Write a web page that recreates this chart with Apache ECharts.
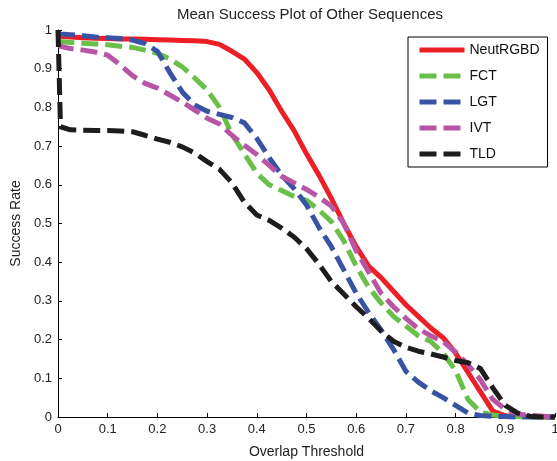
<!DOCTYPE html>
<html>
<head>
<meta charset="utf-8">
<script src="https://cdn.jsdelivr.net/npm/echarts@6/dist/echarts.min.js"></script>
<style>
  html, body { margin: 0; padding: 0; background: #fff; }
  #success-chart { width: 557px; height: 461px; }
</style>
</head>
<body>
<div id="success-chart"></div>
<script>
// overlap thresholds (x)
let thresholds = [0, 0.005, 0.025, 0.05, 0.075, 0.1, 0.125, 0.15, 0.175, 0.2, 0.225, 0.25, 0.275, 0.3,
  0.325, 0.35, 0.375, 0.4, 0.425, 0.45, 0.475, 0.5, 0.525, 0.55, 0.575, 0.6, 0.625, 0.65, 0.675, 0.7,
  0.725, 0.75, 0.775, 0.8, 0.825, 0.85, 0.875, 0.9, 0.925, 0.95, 0.975, 1];

let neutRGBD = [0.985, 0.984, 0.982, 0.98, 0.979, 0.978, 0.977, 0.977, 0.976, 0.975, 0.974, 0.973, 0.972, 0.97,
  0.963, 0.945, 0.925, 0.89, 0.845, 0.79, 0.74, 0.68, 0.625, 0.565, 0.5, 0.44, 0.39, 0.36, 0.325, 0.29,
  0.26, 0.23, 0.205, 0.165, 0.115, 0.065, 0.015, 0.003, 0.002, 0.001, 0, 0];

let fct = [0.975, 0.97, 0.968, 0.966, 0.964, 0.962, 0.958, 0.955, 0.948, 0.94, 0.925, 0.905, 0.876, 0.845,
  0.8, 0.73, 0.68, 0.63, 0.6, 0.585, 0.57, 0.56, 0.535, 0.505, 0.455, 0.39, 0.335, 0.295, 0.26, 0.235,
  0.21, 0.195, 0.165, 0.12, 0.045, 0.013, 0.005, 0.002, 0.001, 0, 0, 0];

let lgt = [0.992, 0.99, 0.988, 0.985, 0.982, 0.98, 0.978, 0.974, 0.965, 0.945, 0.89, 0.84, 0.806, 0.79,
  0.782, 0.774, 0.76, 0.72, 0.67, 0.625, 0.59, 0.548, 0.49, 0.44, 0.38, 0.32, 0.27, 0.225, 0.175, 0.118,
  0.09, 0.068, 0.05, 0.03, 0.01, 0.004, 0.002, 0.001, 0, 0, 0, 0];

let ivt = [0.965, 0.958, 0.952, 0.948, 0.943, 0.935, 0.91, 0.882, 0.862, 0.85, 0.832, 0.814, 0.793, 0.772,
  0.757, 0.728, 0.702, 0.678, 0.65, 0.622, 0.605, 0.588, 0.568, 0.545, 0.5, 0.43, 0.375, 0.32, 0.285, 0.255,
  0.228, 0.21, 0.195, 0.168, 0.135, 0.096, 0.045, 0.02, 0.008, 0.004, 0.002, 0];

let tld = [1.0, 0.75, 0.742, 0.741, 0.74, 0.74, 0.739, 0.737, 0.728, 0.718, 0.71, 0.698, 0.682, 0.66,
  0.64, 0.605, 0.555, 0.522, 0.508, 0.488, 0.465, 0.435, 0.395, 0.35, 0.318, 0.285, 0.255, 0.222, 0.196, 0.18,
  0.17, 0.163, 0.155, 0.146, 0.14, 0.125, 0.075, 0.03, 0.01, 0.002, 0, 0];

let seriesNames = ['NeutRGBD', 'FCT', 'LGT', 'IVT', 'TLD'];
let seriesValues = [neutRGBD, fct, lgt, ivt, tld];
let seriesColors = ['#ec1f26', '#6abf48', '#3953a4', '#b855a4', '#1e1c1d'];

let chartDom = document.getElementById('success-chart');
let chart = echarts.init(chartDom, null, { renderer: 'canvas' });
let font = 'Liberation Sans, Arial, Helvetica, sans-serif';

function toPairs(values) {
  return thresholds.map(function (t, i) {
    return [t, values[i]];
  });
}

let series = seriesNames.map(function (name, i) {
  return {
    name: name,
    type: 'line',
    showSymbol: false,
    symbol: 'none',
    clip: false,
    animation: false,
    lineStyle: {
      color: seriesColors[i],
      width: 5,
      type: i === 0 ? 'solid' : [17, 7],
      cap: 'butt',
      join: 'round'
    },
    itemStyle: { color: seriesColors[i] },
    data: toPairs(seriesValues[i])
  };
});

let option = {
  animation: false,
  backgroundColor: '#fff',
  title: {
    text: 'Mean Success Plot of Other Sequences',
    left: 305,
    top: 2,
    textAlign: 'center',
    textStyle: { fontFamily: font, fontSize: 15, fontWeight: 'normal', color: '#222' }
  },
  legend: {
    orient: 'vertical',
    left: 408,
    top: 37,
    padding: [6, 8, 6, 9],
    itemWidth: 45,
    itemHeight: 10,
    itemGap: 12,
    borderColor: '#000',
    borderWidth: 1,
    backgroundColor: '#fff',
    itemStyle: { opacity: 0 },
    lineStyle: { width: 5 },
    data: seriesNames,
    textStyle: { fontFamily: font, fontSize: 14, color: '#111' }
  },
  grid: {
    left: 58,
    right: 2,
    top: 30,
    bottom: 44,
    outerBoundsMode: 'none'
  },
  xAxis: {
    type: 'value',
    min: 0,
    max: 1,
    interval: 0.1,
    name: 'Overlap Threshold',
    nameLocation: 'middle',
    nameGap: 28,
    nameTextStyle: { fontFamily: font, fontSize: 14, color: '#222' },
    axisLine: { lineStyle: { color: '#000', width: 1 } },
    axisTick: { inside: true, length: 4, lineStyle: { color: '#000' } },
    axisLabel: { fontFamily: font, fontSize: 13, color: '#222', margin: 6 },
    splitLine: { show: false }
  },
  yAxis: {
    type: 'value',
    min: 0,
    max: 1,
    interval: 0.1,
    name: 'Success Rate',
    nameLocation: 'middle',
    nameGap: 35,
    nameTextStyle: { fontFamily: font, fontSize: 14, color: '#222' },
    axisLine: { show: true, lineStyle: { color: '#000', width: 1 } },
    axisTick: { show: true, inside: true, length: 4, lineStyle: { color: '#000' } },
    axisLabel: { fontFamily: font, fontSize: 13, color: '#222', margin: 6 },
    splitLine: { show: false }
  },
  series: series
};

option && chart.setOption(option);
</script>
</body>
</html>
